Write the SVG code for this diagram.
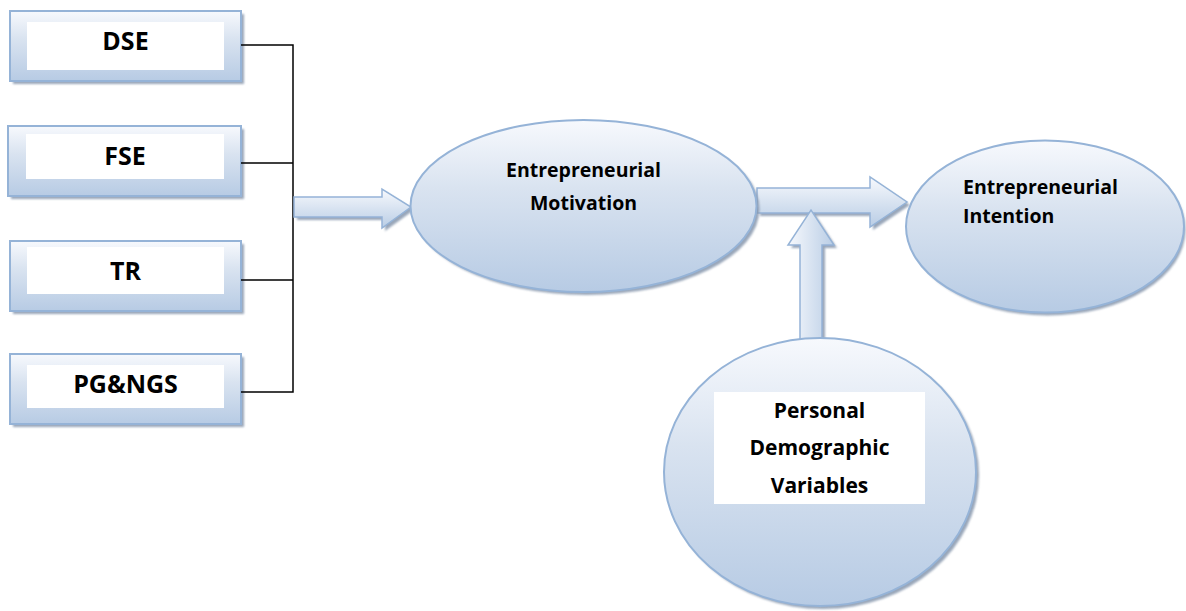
<svg xmlns="http://www.w3.org/2000/svg" width="1186" height="611" viewBox="0 0 1186 611">
  <defs>
    <linearGradient id="fillGrad" x1="0" y1="0" x2="0" y2="1">
      <stop offset="0" stop-color="#f7f9fd"/>
      <stop offset="0.4" stop-color="#d9e3f0"/>
      <stop offset="1" stop-color="#b7cbe4"/>
    </linearGradient>
    <linearGradient id="arrowGrad" x1="0" y1="0" x2="0" y2="1">
      <stop offset="0" stop-color="#f7f9fd"/>
      <stop offset="1" stop-color="#b9cde5"/>
    </linearGradient>
    <linearGradient id="arrowGradV" x1="0" y1="0" x2="1" y2="0">
      <stop offset="0" stop-color="#f7f9fd"/>
      <stop offset="1" stop-color="#b9cde5"/>
    </linearGradient>
    <filter id="soft" x="-10%" y="-10%" width="120%" height="120%">
      <feGaussianBlur stdDeviation="0.8"/>
    </filter>
  </defs>
  <style>
    .shape { fill: url(#fillGrad); stroke: #95b3d7; stroke-width: 2; }
    .shadow { fill: #8797ad; opacity: 0.85; filter: url(#soft); }
    .inner { fill: #ffffff; }
    .arrow { stroke: #95b3d7; stroke-width: 1.5; }
    .link { fill: none; stroke: #000000; stroke-width: 1.5; }
    .label { font-family: "Open Sans", "Liberation Sans", sans-serif; font-weight: 700; fill: #000000; }
    .box-label { font-size: 25px; text-anchor: middle; }
    .oval-label { font-size: 19.5px; }
    .demo-label { font-size: 21px; text-anchor: middle; }
  </style>

  <!-- source factor boxes -->
  <g id="node-dse">
    <rect class="shadow" x="13" y="14" width="231" height="70"/>
    <rect class="shape" x="10" y="11" width="231" height="70"/>
    <rect class="inner" x="27" y="22" width="197" height="48"/>
    <text class="label box-label" x="125.5" y="50">DSE</text>
  </g>
  <g id="node-fse">
    <rect class="shadow" x="11" y="129" width="233" height="70"/>
    <rect class="shape" x="8" y="126" width="233" height="70"/>
    <rect class="inner" x="26" y="134" width="198" height="45"/>
    <text class="label box-label" x="125" y="165">FSE</text>
  </g>
  <g id="node-tr">
    <rect class="shadow" x="13" y="244" width="231" height="70"/>
    <rect class="shape" x="10" y="241" width="231" height="70"/>
    <rect class="inner" x="27" y="247" width="197" height="47"/>
    <text class="label box-label" x="125.5" y="280">TR</text>
  </g>
  <g id="node-pgngs">
    <rect class="shadow" x="13" y="357" width="231" height="70"/>
    <rect class="shape" x="10" y="354" width="231" height="70"/>
    <rect class="inner" x="27" y="365" width="197" height="43"/>
    <text class="label box-label" x="125.5" y="393">PG&amp;NGS</text>
  </g>

  <!-- connectors -->
  <g id="connectors">
    <path class="link" d="M241 45 H293 M241 163 H293 M241 280 H293 M241 392 H293 M293 44.25 V392.75"/>
    <!-- bracket to motivation -->
    <path class="shadow" d="M297 200 H385 V192 L414 210 L385 231 V220 H297 Z"/>
    <path class="arrow" fill="url(#arrowGrad)" d="M294 197 H382 V189 L411 207 L382 228 V217 H294 Z"/>
    <!-- motivation to intention -->
    <path class="shadow" d="M760 191 H873 V180 L910 205 L873 230 V216 H760 Z"/>
    <path class="arrow" fill="url(#arrowGrad)" d="M757 188 H870 V177 L907 202 L870 227 V213 H757 Z"/>
    <!-- demographics moderating upward -->
    <path class="shadow" d="M803 343 V248 H791 L814 213 L837 248 H825 V343 Z"/>
    <path class="arrow" fill="url(#arrowGradV)" d="M800 340 V245 H788 L811 210 L834 245 H822 V340 Z"/>
  </g>

  <!-- outcome ovals -->
  <g id="node-motivation">
    <ellipse class="shadow" cx="586.5" cy="209" rx="173" ry="86"/>
    <ellipse class="shape" cx="583.5" cy="206" rx="173" ry="86"/>
    <text class="label oval-label" x="583.5" y="177" text-anchor="middle">Entrepreneurial</text>
    <text class="label oval-label" x="583.5" y="210" text-anchor="middle">Motivation</text>
  </g>
  <g id="node-intention">
    <ellipse class="shadow" cx="1047.5" cy="229.5" rx="138" ry="86"/>
    <ellipse class="shape" cx="1045" cy="226.5" rx="139" ry="86"/>
    <text class="label oval-label" x="963" y="194">Entrepreneurial</text>
    <text class="label oval-label" x="963" y="223">Intention</text>
  </g>
  <g id="node-demographics">
    <ellipse class="shadow" cx="823" cy="475" rx="156" ry="134"/>
    <ellipse class="shape" cx="820" cy="472" rx="156" ry="134"/>
    <rect class="inner" x="714" y="392" width="211" height="112"/>
    <text class="label demo-label" x="819.5" y="418">Personal</text>
    <text class="label demo-label" x="819.5" y="455">Demographic</text>
    <text class="label demo-label" x="819.5" y="493">Variables</text>
  </g>
</svg>
